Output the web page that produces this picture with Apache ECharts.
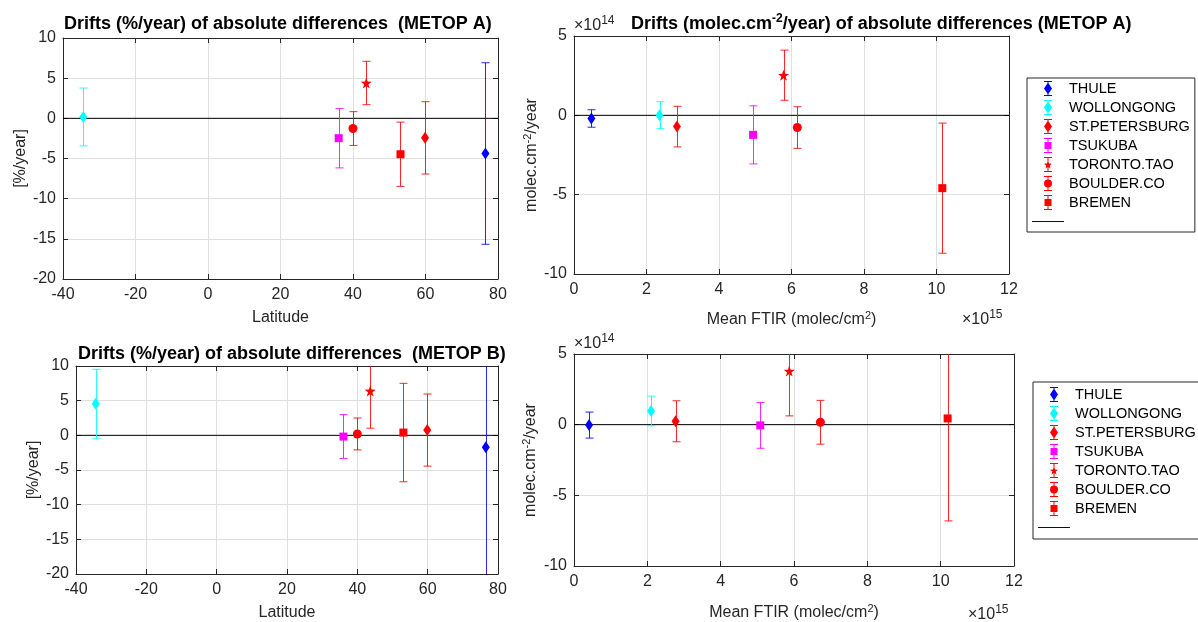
<!DOCTYPE html>
<html><head><meta charset="utf-8">
<script src="https://cdn.jsdelivr.net/npm/echarts@6/dist/echarts.min.js"></script>
<style>html,body{margin:0;padding:0;background:#fff}#c{width:1198px;height:622px}</style>
</head><body><div id="c"></div>
<script>
// ---------------- DATA ----------------
const stations = ['THULE', 'WOLLONGONG', 'ST.PETERSBURG', 'TSUKUBA', 'TORONTO.TAO', 'BOULDER.CO', 'BREMEN'];
const latitude = [76.53, -34.41, 59.88, 36.05, 43.66, 39.99, 53.10];

// METOP A, relative drifts (%/year)
const driftPctA = [-4.38, 0.17, -2.43, -2.47, 4.40, -1.27, -4.47];
const errPctA   = [11.3, 3.6, 4.5, 3.7, 2.7, 2.1, 4.0];
// METOP B, relative drifts (%/year)
const driftPctB = [-1.71, 4.55, 0.76, -0.18, 6.40, 0.20, 0.40];
const errPctB   = [20.0, 4.97, 5.2, 3.17, 5.37, 2.3, 7.1];

// METOP A, absolute drifts (molec.cm-2/year) vs mean FTIR column (molec/cm2)
const meanFtirA = [0.48e15, 2.36e15, 2.84e15, 4.94e15, 5.78e15, 6.16e15, 10.16e15];
const driftAbsA = [-0.20e14, 0.01e14, -0.71e14, -1.23e14, 2.53e14, -0.77e14, -4.59e14];
const errAbsA   = [0.55e14, 0.85e14, 1.28e14, 1.83e14, 1.58e14, 1.31e14, 4.10e14];
// METOP B
const meanFtirB = [0.41e15, 2.10e15, 2.77e15, 5.08e15, 5.87e15, 6.72e15, 10.19e15];
const driftAbsB = [-0.03e14, 0.97e14, 0.24e14, -0.05e14, 3.79e14, 0.17e14, 0.44e14];
const errAbsB   = [0.92e14, 1.05e14, 1.45e14, 1.62e14, 3.17e14, 1.55e14, 7.25e14];

// axis ranges [min, max, interval]
const latRange = [-40, 80, 20];
const pctRange = [-20, 10, 5];
const ftirRange = [0, 12e15, 2e15];
const absRange = [-10e14, 5e14, 5e14];

const titleA = 'Drifts (%/year) of absolute differences  (METOP A)';
const titleB = 'Drifts (%/year) of absolute differences  (METOP B)';
const titleAbs = 'Drifts (molec.cm{s|-2}/year) of absolute differences (METOP A)';

// ---------------- STYLE ----------------
const FONT = '"Liberation Sans", Arial, Helvetica, sans-serif';
const TXT = '#262626';
const colors = ['#0000ff', '#00ffff', '#ff0000', '#ff00ff', '#ff0000', '#ff0000', '#ff0000'];
const STAR = 'path://M10 0 L12.35 6.76 L19.51 6.91 L13.8 11.24 L15.88 18.09 L10 14 L4.12 18.09 L6.2 11.24 L0.49 6.91 L7.65 6.76 Z';
const symbols = ['diamond', 'diamond', 'diamond', 'rect', STAR, 'circle', 'rect'];
const symSizes = [[8, 12], [8, 12], [8, 12], [8, 8], [11, 11], [9, 9], [8, 8]];
// legend icons: error bar (16x30 box) + marker
const BAR = 'M7 0 H9 V30 H7 Z M0 0 H16 V2 H0 Z M0 28 H16 V30 H0 Z ';
const legendMarks = {
  diamond: 'M8 3 L16 15 L8 27 L0 15 Z',
  rect: 'M1 8 H15 V22 H1 Z',
  circle: 'M8 7 A8 8 0 1 1 8 23 A8 8 0 1 1 8 7 Z',
  star: 'M8 7 L10.2 13.1 L16 13.3 L11.5 17 L13 23 L8 19.5 L3 23 L4.5 17 L0 13.3 L5.8 13.1 Z'
};
const legendKeys = ['diamond', 'diamond', 'diamond', 'rect', 'star', 'circle', 'rect'];

const grids = [
  {left: 63, top: 38, width: 435, height: 241},
  {left: 574, top: 36, width: 435, height: 238},
  {left: 76, top: 366, width: 422, height: 208},
  {left: 574, top: 354, width: 440, height: 214}
];

const panels = [
  {x: latitude, y: driftPctA, e: errPctA, xr: latRange, yr: pctRange, xs: 1, ys: 1},
  {x: meanFtirA, y: driftAbsA, e: errAbsA, xr: ftirRange, yr: absRange, xs: 1e15, ys: 1e14},
  {x: latitude, y: driftPctB, e: errPctB, xr: latRange, yr: pctRange, xs: 1, ys: 1},
  {x: meanFtirB, y: driftAbsB, e: errAbsB, xr: ftirRange, yr: absRange, xs: 1e15, ys: 1e14}
];

const xNames = ['Latitude', 'Mean FTIR (molec/cm{s|2})', 'Latitude', 'Mean FTIR (molec/cm{s|2})'];
const yNames = ['[%/year]', 'molec.cm{s|-2}/year', '[%/year]', 'molec.cm{s|-2}/year'];
const xGaps = [31, 36, 31, 37];
const yGaps = [32, 31, 32, 33];

const richSup = {s: {fontSize: 11, padding: [0, 0, 9, 0], fontFamily: FONT, color: TXT}};

function renderErr(params, api) {
  const x = api.value(0), lo = api.value(1), hi = api.value(2);
  const pLo = api.coord([x, lo]);
  const pHi = api.coord([x, hi]);
  const cs = params.coordSys;
  const px = Math.round(pLo[0]) + 0.5;
  const top = Math.max(pHi[1], cs.y);
  const bot = Math.min(pLo[1], cs.y + cs.height);
  const st = {stroke: api.visual('color'), lineWidth: 1, opacity: 0.85};
  const ch = [{type: 'line', shape: {x1: px, y1: top, x2: px, y2: bot}, style: st}];
  const cw = 4;
  if (pHi[1] >= cs.y) ch.push({type: 'line', shape: {x1: px - cw, y1: pHi[1], x2: px + cw, y2: pHi[1]}, style: st});
  if (pLo[1] <= cs.y + cs.height) ch.push({type: 'line', shape: {x1: px - cw, y1: pLo[1], x2: px + cw, y2: pLo[1]}, style: st});
  return {type: 'group', children: ch};
}

const xAxis = [], yAxis = [], series = [];
panels.forEach((p, k) => {
  const common = {
    axisLine: {show: true, onZero: false, lineStyle: {color: TXT, width: 1}},
    axisTick: {show: true, inside: true, length: 5, lineStyle: {color: TXT}},
    splitLine: {show: false}
  };
  xAxis.push(Object.assign({}, common, {
    type: 'value', gridIndex: k, position: 'bottom', min: p.xr[0], max: p.xr[1], interval: p.xr[2],
    name: xNames[k], nameLocation: 'middle', nameGap: xGaps[k],
    nameTextStyle: {fontSize: 16, color: TXT, fontFamily: FONT, rich: richSup},
    axisLabel: {fontSize: 16, color: TXT, fontFamily: FONT, margin: 8, formatter: v => String(Math.round(v / p.xs))},
    splitLine: {show: true, lineStyle: {color: '#dfdfdf', width: 1}}
  }));
  xAxis.push(Object.assign({}, common, {
    type: 'value', gridIndex: k, position: 'top', min: p.xr[0], max: p.xr[1], interval: p.xr[2],
    axisLabel: {show: false}
  }));
  yAxis.push(Object.assign({}, common, {
    type: 'value', gridIndex: k, position: 'left', min: p.yr[0], max: p.yr[1], interval: p.yr[2],
    name: yNames[k], nameLocation: 'middle', nameGap: yGaps[k],
    nameTextStyle: {fontSize: 16, color: TXT, fontFamily: FONT, rich: richSup},
    axisLabel: {fontSize: 16, color: TXT, fontFamily: FONT, margin: 7, formatter: v => String(Math.round(v / p.ys))},
    splitLine: {show: true, lineStyle: {color: '#dfdfdf', width: 1}}
  }));
  yAxis.push(Object.assign({}, common, {
    type: 'value', gridIndex: k, position: 'right', min: p.yr[0], max: p.yr[1], interval: p.yr[2],
    axisLabel: {show: false}
  }));

  // zero line
  series.push({
    name: ' ', type: 'line', xAxisIndex: 2 * k, yAxisIndex: 2 * k, symbol: 'none', silent: true,
    data: [[p.xr[0], 0], [p.xr[1], 0]], lineStyle: {color: '#000', width: 1}, itemStyle: {color: '#000'}, z: 3
  });
  stations.forEach((s, i) => {
    series.push({
      name: s, type: 'scatter', xAxisIndex: 2 * k, yAxisIndex: 2 * k,
      symbol: symbols[i], symbolSize: symSizes[i], itemStyle: {color: colors[i], opacity: 1}, z: 5,
      data: [[p.x[i], p.y[i]]]
    });
    series.push({
      name: s, type: 'custom', xAxisIndex: 2 * k, yAxisIndex: 2 * k,
      itemStyle: {color: colors[i]}, z: 4,
      renderItem: renderErr, encode: {x: 0, y: [1, 2]},
      data: [[p.x[i], p.y[i] - p.e[i], p.y[i] + p.e[i]]]
    });
  });
});

function legendData() {
  const d = stations.map((s, i) => ({name: s, icon: 'path://' + BAR + legendMarks[legendKeys[i]]}));
  d.push({name: ' ', icon: 'path://M0 0 H34 V1 H0 Z', itemStyle: {color: '#000'}});
  return d;
}
const legendBase = {
  orient: 'vertical', itemWidth: 32, itemHeight: 15, itemGap: 4, selectedMode: false,
  borderColor: TXT, borderWidth: 1, backgroundColor: '#fff', borderRadius: 0,
  textStyle: {fontSize: 14.5, color: '#000', fontFamily: FONT}
};

const titleStyle = {fontSize: 18, fontWeight: 'bold', color: '#000', fontFamily: FONT,
  rich: {s: {fontSize: 12, fontWeight: 'bold', padding: [0, 0, 10, 0], fontFamily: FONT, color: '#000'}}};
const expStyle = {fontSize: 16, fontWeight: 'normal', color: TXT, fontFamily: FONT,
  rich: {s: {fontSize: 12, padding: [0, 0, 10, 0], fontFamily: FONT, color: TXT}}};

const option = {
  animation: false,
  backgroundColor: '#fff',
  title: [
    {text: titleA, left: 64, top: 15, padding: 0, textStyle: titleStyle},
    {text: titleAbs, left: 631, top: 13, padding: 0, textStyle: titleStyle},
    {text: titleB, left: 78, top: 345, padding: 0, textStyle: titleStyle},
    {text: '×10{s|14}', left: 574, top: 15, padding: 0, textStyle: expStyle},
    {text: '×10{s|15}', left: 962, top: 309, padding: 0, textStyle: expStyle},
    {text: '×10{s|14}', left: 574, top: 333, padding: 0, textStyle: expStyle},
    {text: '×10{s|15}', left: 968, top: 604, padding: 0, textStyle: expStyle}
  ],
  legend: [
    Object.assign({}, legendBase, {left: 1027, top: 78, padding: [3, 5, 3, 5], data: legendData()}),
    Object.assign({}, legendBase, {left: 1033, top: 382, padding: [5, 5, 4, 5], data: legendData()})
  ],
  grid: grids.map(g => Object.assign({show: false, containLabel: false}, g)),
  xAxis, yAxis, series
};

const chart = echarts.init(document.getElementById('c'), null, {renderer: 'canvas'});
chart.setOption(option);
</script>
</body></html>
